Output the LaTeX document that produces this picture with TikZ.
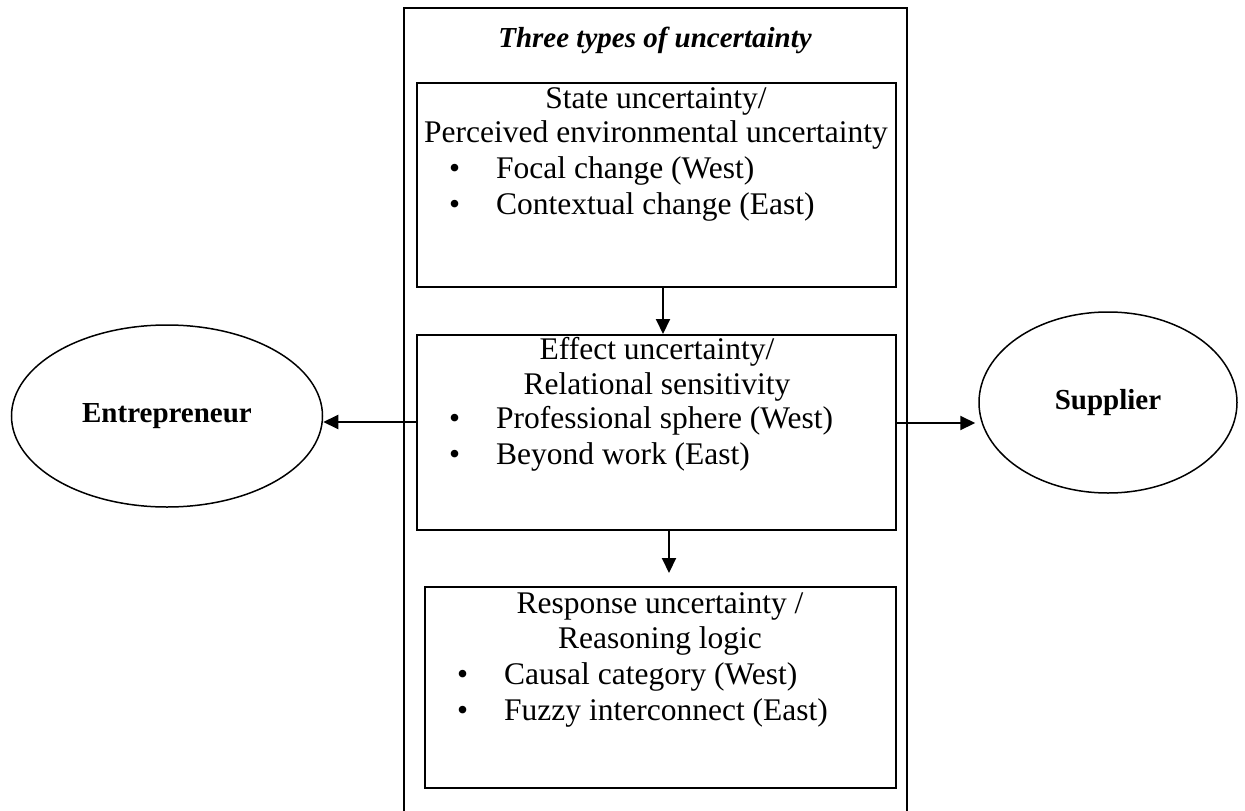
\documentclass[tikz,border=0pt]{standalone}
\usepackage{fontspec}
\setmainfont{Liberation Serif}
\usetikzlibrary{shapes.geometric,arrows.meta}
\begin{document}
\begin{tikzpicture}[x=1pt,y=-1pt,
  every node/.style={font=\fontsize{31.5}{36}\selectfont},
  boxnode/.style={draw, line width=1.8pt, rectangle, inner sep=0pt},
  oval/.style={draw, line width=1.5pt, ellipse, inner sep=0pt, font=\fontsize{29}{34}\selectfont\bfseries},
  txt/.style={inner sep=0pt, anchor=center},
  item/.style={inner sep=0pt, anchor=west},
  arr/.style={line width=2pt, -{Triangle[length=15pt,width=14pt]}}
]
\useasboundingbox (0,0) rectangle (1245,811);
\begin{scope}
\clip (0,0) rectangle (1245,811);
\node[boxnode, minimum width=503pt, minimum height=830pt, anchor=north west] (frame) at (403,7) {};
\end{scope}
\node[txt, font=\fontsize{29}{34}\selectfont\bfseries\itshape] (title) at (655,40) {Three types of uncertainty};

\node[boxnode, minimum width=479pt, minimum height=204pt, anchor=north west] (box1) at (416,82) {};
\node[boxnode, minimum width=479pt, minimum height=195pt, anchor=north west] (box2) at (416,334) {};
\node[boxnode, minimum width=471pt, minimum height=201pt, anchor=north west] (box3) at (424,586) {};

% box 1 text
\node[txt] (b1l1) at (656,101) {State uncertainty/};
\node[txt] (b1l2) at (656,135) {Perceived environmental uncertainty};
\node[item] (b1l3) at (449,171) {\textbullet\hspace{36pt}Focal change (West)};
\node[item] (b1l4) at (449,207) {\textbullet\hspace{36pt}Contextual change (East)};

% box 2 text
\node[txt] (b2l1) at (657,352) {Effect uncertainty/};
\node[txt] (b2l2) at (657,387) {Relational sensitivity};
\node[item] (b2l3) at (449,421) {\textbullet\hspace{36pt}Professional sphere (West)};
\node[item] (b2l4) at (449,457) {\textbullet\hspace{36pt}Beyond work (East)};

% box 3 text
\node[txt] (b3l1) at (660,606) {Response uncertainty /};
\node[txt] (b3l2) at (660,641) {Reasoning logic};
\node[item] (b3l3) at (457,677) {\textbullet\hspace{36pt}Causal category (West)};
\node[item] (b3l4) at (457,713) {\textbullet\hspace{36pt}Fuzzy interconnect (East)};

% ellipses
\node[oval, minimum width=311pt, minimum height=182pt] (ent) at (167,416) {Entrepreneur};
\node[oval, minimum width=258pt, minimum height=181pt] (sup) at (1108,402.5) {Supplier};

% connectors
\coordinate (c1) at (663,0);
\coordinate (c2) at (669,0);
\coordinate (yl) at (0,422);
\coordinate (yr) at (0,423);
\draw[arr] (box1.south -| c1) -- (box2.north -| c1);
\draw[arr, shorten >=13pt] (box2.south -| c2) -- (box3.north -| c2);
\draw[arr] (box2.west |- yl) -- (ent.east |- yl);
\draw[arr, shorten >=3pt] (box2.east |- yr) -- (sup.west |- yr);
\end{tikzpicture}
\end{document}
